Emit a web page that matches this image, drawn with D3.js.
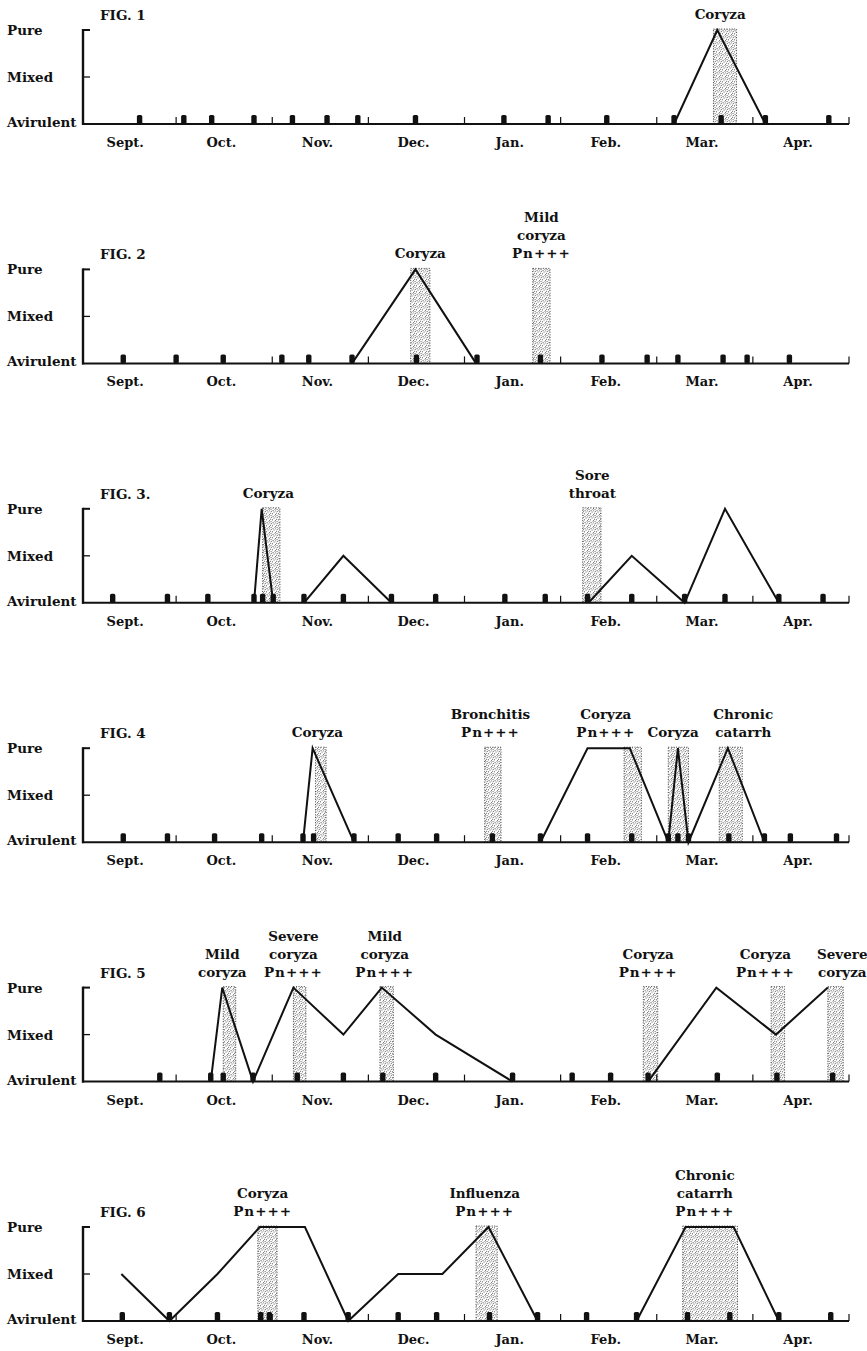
<!DOCTYPE html>
<html>
<head>
<meta charset="utf-8">
<script src="https://cdn.jsdelivr.net/npm/d3@7"></script>
<style>
  body { margin: 0; background: #fff; }
  svg { display: block; }
  text { font-family: "DejaVu Serif", serif; font-weight: bold; fill: #111; }
</style>
</head>
<body>
<div id="chart"></div>
<script>
// x positions are in months from Sept 1 (each month drawn with equal width)
const months = ['Sept.', 'Oct.', 'Nov.', 'Dec.', 'Jan.', 'Feb.', 'Mar.', 'Apr.'];
const levels = ['Avirulent', 'Mixed', 'Pure'];
const figNames = ['FIG. 1', 'FIG. 2', 'FIG. 3.', 'FIG. 4', 'FIG. 5', 'FIG. 6'];

// FIG. 1
const fig1Samples = [0.62, 1.08, 1.37, 1.81, 2.21, 2.57, 2.89, 3.49, 4.41, 4.87, 5.48, 6.18, 6.67, 7.13, 7.79];
const fig1Curves = [[[6.18, 0], [6.63, 2], [7.13, 0]]];
const fig1Bands = [[6.59, 6.83]];
const fig1Notes = [{ at: 6.66, lines: ['Coryza'] }];

// FIG. 2
const fig2Samples = [0.45, 1.00, 1.49, 2.10, 2.38, 2.83, 3.50, 4.13, 4.79, 5.43, 5.90, 6.22, 6.69, 6.94, 7.38];
const fig2Curves = [[[2.83, 0], [3.49, 2], [4.12, 0]]];
const fig2Bands = [[3.44, 3.64], [4.71, 4.89]];
const fig2Notes = [
  { at: 3.54, lines: ['Coryza'] },
  { at: 4.80, lines: ['Mild', 'coryza', 'Pn+++'] }
];

// FIG. 3
const fig3Samples = [0.34, 0.91, 1.33, 1.81, 1.90, 2.01, 2.33, 2.74, 3.24, 3.70, 4.42, 4.84, 5.28, 5.74, 6.29, 6.71, 7.27, 7.73];
const fig3Curves = [
  [[1.81, 0], [1.89, 2], [2.01, 0]],
  [[2.33, 0], [2.74, 1], [3.24, 0]],
  [[5.29, 0], [5.74, 1], [6.29, 0], [6.71, 2], [7.27, 0]]
];
const fig3Bands = [[1.90, 2.08], [5.23, 5.42]];
const fig3Notes = [
  { at: 1.96, lines: ['Coryza'] },
  { at: 5.33, lines: ['Sore', 'throat'] }
];

// FIG. 4
const fig4Samples = [0.45, 0.91, 1.40, 1.89, 2.32, 2.43, 2.85, 3.31, 3.71, 4.29, 4.79, 5.28, 5.74, 6.12, 6.22, 6.33, 6.75, 7.12, 7.39, 7.87];
const fig4Curves = [
  [[2.32, 0], [2.42, 2], [2.85, 0]],
  [[4.79, 0], [5.28, 2], [5.72, 2], [6.12, 0], [6.22, 2], [6.33, 0], [6.74, 2], [7.12, 0]]
];
const fig4Bands = [[2.45, 2.56], [4.21, 4.38], [5.66, 5.84], [6.12, 6.33], [6.65, 6.89]];
const fig4Notes = [
  { at: 2.47, lines: ['Coryza'] },
  { at: 4.27, lines: ['Bronchitis', 'Pn+++'] },
  { at: 5.47, lines: ['Coryza', 'Pn+++'] },
  { at: 6.17, lines: ['Coryza'] },
  { at: 6.90, lines: ['Chronic', 'catarrh'] }
];

// FIG. 5
const fig5Samples = [0.83, 1.36, 1.49, 1.80, 2.26, 2.74, 3.15, 3.70, 4.50, 5.12, 5.52, 5.91, 6.63, 7.25, 7.83];
const fig5Curves = [
  [[1.36, 0], [1.48, 2], [1.80, 0], [2.22, 2], [2.74, 1], [3.14, 2], [3.70, 1], [4.50, 0]],
  [[5.91, 0], [6.62, 2], [7.24, 1], [7.78, 2]]
];
const fig5Bands = [[1.49, 1.62], [2.22, 2.35], [3.12, 3.26], [5.86, 6.01], [7.19, 7.33], [7.78, 7.94]];
const fig5Notes = [
  { at: 1.48, lines: ['Mild', 'coryza'] },
  { at: 2.22, lines: ['Severe', 'coryza', 'Pn+++'] },
  { at: 3.17, lines: ['Mild', 'coryza', 'Pn+++'] },
  { at: 5.91, lines: ['Coryza', 'Pn+++'] },
  { at: 7.13, lines: ['Coryza', 'Pn+++'] },
  { at: 7.93, lines: ['Severe', 'coryza'] }
];

// FIG. 6
const fig6Samples = [0.44, 0.93, 1.43, 1.88, 1.97, 2.33, 2.79, 3.31, 3.71, 4.26, 4.76, 5.27, 5.79, 6.32, 6.76, 7.27, 7.81];
const fig6Curves = [
  [[0.43, 1], [0.93, 0], [1.43, 1], [1.87, 2], [2.34, 2], [2.79, 0], [3.31, 1], [3.77, 1], [4.25, 2], [4.76, 0]],
  [[5.79, 0], [6.30, 2], [6.80, 2], [7.27, 0]]
];
const fig6Bands = [[1.85, 2.05], [4.12, 4.34], [6.27, 6.84]];
const fig6Notes = [
  { at: 1.90, lines: ['Coryza', 'Pn+++'] },
  { at: 4.21, lines: ['Influenza', 'Pn+++'] },
  { at: 6.50, lines: ['Chronic', 'catarrh', 'Pn+++'] }
];

const figures = [
  { samples: fig1Samples, curves: fig1Curves, bands: fig1Bands, notes: fig1Notes },
  { samples: fig2Samples, curves: fig2Curves, bands: fig2Bands, notes: fig2Notes },
  { samples: fig3Samples, curves: fig3Curves, bands: fig3Bands, notes: fig3Notes },
  { samples: fig4Samples, curves: fig4Curves, bands: fig4Bands, notes: fig4Notes },
  { samples: fig5Samples, curves: fig5Curves, bands: fig5Bands, notes: fig5Notes },
  { samples: fig6Samples, curves: fig6Curves, bands: fig6Bands, notes: fig6Notes }
];

const width = 867;
const height = 1351;
const firstBase = 124;
const panelStep = 239.4;
const plotHeight = 94;

const svg = d3.select('#chart')
  .append('svg')
  .attr('width', width)
  .attr('height', height);

svg.append('rect').attr('width', width).attr('height', height).attr('fill', '#fff');

// stipple for the illness periods
const pattern = svg.append('defs')
  .append('pattern')
  .attr('id', 'stipple')
  .attr('patternUnits', 'userSpaceOnUse')
  .attr('width', 6)
  .attr('height', 6);
[[0.8, 0.9], [3.6, 1.6], [2.1, 3.4], [5.0, 4.3], [0.6, 5.2], [3.9, 5.6], [5.4, 0.4], [2.6, 0.2], [0.2, 2.8]].forEach(p => {
  pattern.append('rect')
    .attr('x', p[0]).attr('y', p[1])
    .attr('width', 0.9).attr('height', 0.9)
    .attr('fill', '#333');
});

const x = d3.scaleLinear().domain([0, 8]).range([80, 849]);

figures.forEach((fig, i) => {
  const base = firstBase + panelStep * i;
  const y = d3.scaleLinear().domain([0, 2]).range([base, base - plotHeight]);
  const g = svg.append('g');

  // shaded periods
  fig.bands.forEach(b => {
    g.append('rect')
      .attr('x', x(b[0]))
      .attr('y', y(2) - 1)
      .attr('width', x(b[1]) - x(b[0]))
      .attr('height', y(0) - y(2) + 1)
      .attr('fill', 'url(#stipple)')
      .attr('stroke', '#333')
      .attr('stroke-width', 0.9)
      .attr('stroke-dasharray', '1 1.6');
  });

  // y axis
  g.append('line')
    .attr('x1', 83).attr('x2', 83)
    .attr('y1', y(2) - 1).attr('y2', y(0) + 1)
    .attr('stroke', '#111').attr('stroke-width', 2.4);
  [1, 2].forEach(v => {
    g.append('line')
      .attr('x1', 83).attr('x2', 90)
      .attr('y1', y(v)).attr('y2', y(v))
      .attr('stroke', '#111').attr('stroke-width', v === 2 ? 2 : 1.3);
  });
  levels.forEach((name, v) => {
    g.append('text')
      .attr('x', 7)
      .attr('y', y(v) + (v === 0 ? 3 : 5))
      .attr('font-size', '13.5px')
      .text(name);
  });

  // x axis
  g.append('line')
    .attr('x1', 82).attr('x2', x(8))
    .attr('y1', base).attr('y2', base)
    .attr('stroke', '#111').attr('stroke-width', 2);
  d3.range(1, 9).forEach(m => {
    g.append('line')
      .attr('x1', x(m)).attr('x2', x(m))
      .attr('y1', base).attr('y2', base - 7)
      .attr('stroke', '#111').attr('stroke-width', 1.2);
  });
  months.forEach((name, m) => {
    g.append('text')
      .attr('x', x(m + 0.47))
      .attr('y', base + 23)
      .attr('text-anchor', 'middle')
      .attr('font-size', '13px')
      .text(name);
  });

  // curves
  const line = d3.line().x(d => x(d[0])).y(d => y(d[1]));
  fig.curves.forEach(c => {
    g.append('path')
      .datum(c)
      .attr('d', line)
      .attr('fill', 'none')
      .attr('stroke', '#111')
      .attr('stroke-width', 2)
      .attr('stroke-linejoin', 'miter');
  });

  // swab dates
  g.selectAll(null)
    .data(fig.samples)
    .enter()
    .append('rect')
    .attr('x', d => x(d) - 2.7)
    .attr('y', base - 9)
    .attr('width', 5.4)
    .attr('height', 9)
    .attr('rx', 1.6)
    .attr('fill', '#111');

  // figure label
  g.append('text')
    .attr('x', 100)
    .attr('y', y(2) - 10)
    .attr('font-size', '13.5px')
    .text(figNames[i]);

  // illness notes, bottom lines aligned
  fig.notes.forEach(n => {
    const k = n.lines.length;
    n.lines.forEach((t, j) => {
      g.append('text')
        .attr('x', x(n.at))
        .attr('y', y(2) - 11 - (k - 1 - j) * 18)
        .attr('text-anchor', 'middle')
        .attr('font-size', '13.5px')
        .attr('letter-spacing', t.startsWith('Pn') ? '1px' : null)
        .text(t);
    });
  });
});
</script>
</body>
</html>
